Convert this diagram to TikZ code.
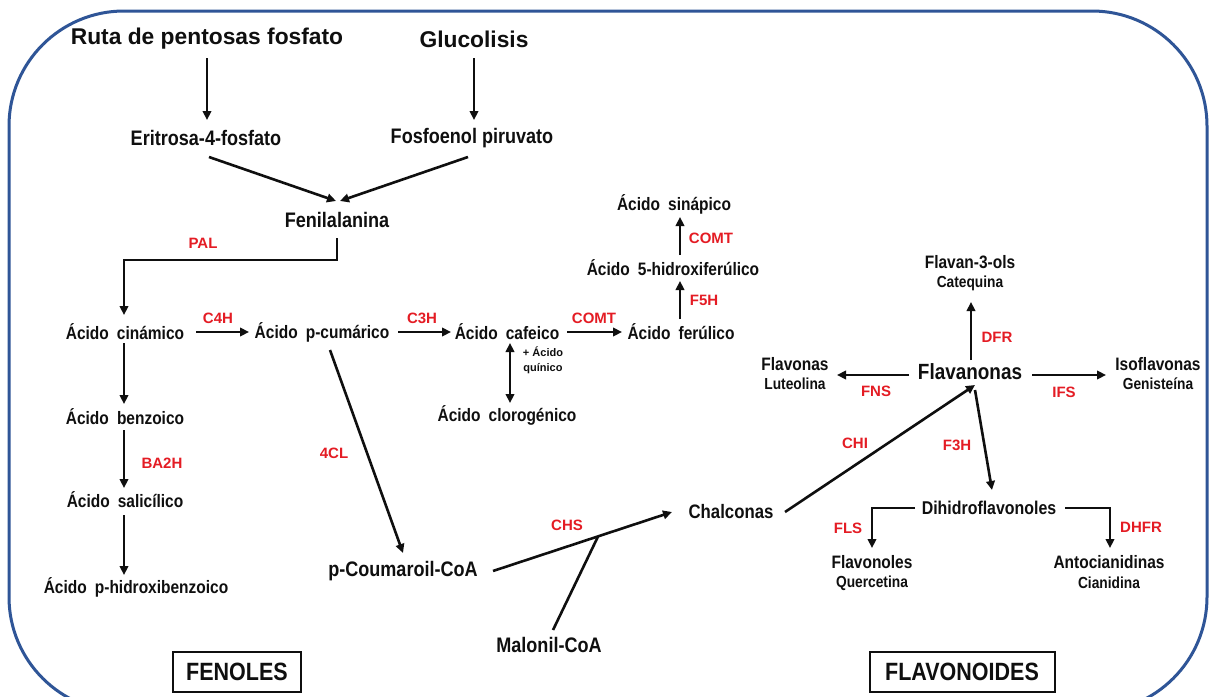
\documentclass[tikz,border=0pt]{standalone}
\usepackage{fontspec}
\setmainfont{Liberation Sans}
\newfontfamily\nf{Liberation Sans}[FakeStretch=0.86]
\usetikzlibrary{arrows.meta,calc}
\definecolor{enzred}{RGB}{228,28,36}
\definecolor{frameblue}{RGB}{47,85,151}
\definecolor{ink}{RGB}{15,15,15}
\newcommand\wsp{\hspace{0.45em}}
\begin{document}
\begin{tikzpicture}[x=1pt,y=-1pt,
  every node/.style={inner sep=0pt, text=ink},
  title/.style={font=\bfseries\fontsize{22.8}{26}\selectfont},
  mid/.style={font=\nf\bfseries\fontsize{21}{24}\selectfont},
  lbl/.style={font=\nf\bfseries\fontsize{18}{21}\selectfont},
  subl/.style={font=\nf\bfseries\fontsize{16}{19}\selectfont},
  enz/.style={text=enzred, font=\bfseries\fontsize{15}{18}\selectfont},
  tinyl/.style={font=\bfseries\fontsize{11}{13}\selectfont},
  boxl/.style={draw=ink, line width=2pt, font=\nf\bfseries\fontsize{25}{28}\selectfont, minimum height=40pt},
  arr/.style={draw=ink, line width=2.6pt, -{Triangle[length=9pt,width=8.5pt]}},
  dbl/.style={draw=ink, line width=2.6pt, {Triangle[length=9pt,width=8.5pt]}-{Triangle[length=9pt,width=8.5pt]}},
  ln/.style={draw=ink, line width=2.6pt},
]
\useasboundingbox (0,0) rectangle (1215,696);
\fill[white] (0,0) rectangle (1215,696);
\draw[frameblue, line width=3pt, rounded corners=115pt] (9,11) rectangle (1207,712);

% main nodes
\node[title] (ruta) at (207,39) {Ruta de pentosas fosfato};
\node[title] (gluc) at (474,39) {Glucolisis};
\node[mid] (eri) at (206,138) {Eritrosa-4-fosfato};
\node[mid] (fosfo) at (472,138) {Fosfoenol piruvato};
\node[mid] (fen) at (337,220) {Fenilalanina};
\node[lbl] (cin) at (125,332) {Ácido\wsp cinámico};
\node[lbl] (pcum) at (322,332) {Ácido\wsp p-cumárico};
\node[lbl] (caf) at (507,332) {Ácido\wsp cafeico};
\node[lbl] (fer) at (681,332) {Ácido\wsp ferúlico};
\node[lbl] (hid) at (673,268) {Ácido\wsp 5-hidroxiferúlico};
\node[lbl] (sin) at (674,204) {Ácido\wsp sinápico};
\node[lbl] (clo) at (507,415) {Ácido\wsp clorogénico};
\node[tinyl] (qa) at (543,352) {+ Ácido};
\node[tinyl] (qb) at (543,369) {quínico};
\node[lbl] (benz) at (125,417) {Ácido\wsp benzoico};
\node[lbl] (sal) at (125,500) {Ácido\wsp salicílico};
\node[lbl] (phb) at (136,587) {Ácido\wsp p-hidroxibenzoico};
\node[mid] (pcoa) at (403,571) {p-Coumaroil-CoA};
\node[mid] (mal) at (549,645) {Malonil-CoA};
\node[lbl, font=\nf\bfseries\fontsize{19.5}{22}\selectfont] (chal) at (731,512) {Chalconas};
\node[mid, font=\nf\bfseries\fontsize{22}{25}\selectfont] (flava) at (970,372) {Flavanonas};
\node[lbl] (flavan) at (970,262) {Flavan-3-ols};
\node[subl] (cateq) at (970,283) {Catequina};
\node[lbl] (flavonas) at (795,364) {Flavonas};
\node[subl] (lut) at (795,384) {Luteolina};
\node[lbl] (iso) at (1158,364) {Isoflavonas};
\node[subl] (gen) at (1158,384) {Genisteína};
\node[lbl, font=\nf\bfseries\fontsize{18.5}{21}\selectfont] (dihi) at (989,508) {Dihidroflavonoles};
\node[lbl] (flavonol) at (872,562) {Flavonoles};
\node[subl] (quer) at (872,583) {Quercetina};
\node[lbl] (anto) at (1109,562) {Antocianidinas};
\node[subl] (cian) at (1109,583) {Cianidina};
\node[boxl, minimum width=128pt] (fenoles) at (237,672) {FENOLES};
\node[boxl, minimum width=185pt] (flavo) at (962,672) {FLAVONOIDES};

% enzyme labels
\node[enz] (ePAL) at (203,243) {PAL};
\node[enz] (eC4H) at (218,318) {C4H};
\node[enz] (eC3H) at (422,318) {C3H};
\node[enz] (eCOMT1) at (594,318) {COMT};
\node[enz] (eF5H) at (704,300) {F5H};
\node[enz] (eCOMT2) at (711,238) {COMT};
\node[enz] (eBA2H) at (162,463) {BA2H};
\node[enz] (e4CL) at (334,453) {4CL};
\node[enz] (eCHS) at (567,525) {CHS};
\node[enz] (eCHI) at (855,443) {CHI};
\node[enz] (eF3H) at (957,445) {F3H};
\node[enz] (eDFR) at (997,337) {DFR};
\node[enz] (eFNS) at (876,391) {FNS};
\node[enz] (eIFS) at (1064,392) {IFS};
\node[enz] (eFLS) at (848,528) {FLS};
\node[enz] (eDHFR) at (1141,527) {DHFR};

% connectors
\draw[arr] ($(ruta)+(0,19)$) -- ($(eri)+(1,-18)$);
\draw[arr] ($(gluc)+(0,19)$) -- ($(fosfo)+(2,-18)$);
\draw[arr] ($(eri)+(3,19)$) -- ($(fen)+(-1,-19)$);
\draw[arr] ($(fosfo)+(-4,19)$) -- ($(fen)+(3,-19)$);
\draw[arr] ($(fen)+(0,18)$) -- ++(0,22) -| ($(cin)+(-1,-17)$);
\draw[arr] ($(cin)+(71,0)$) -- ($(pcum)+(-73,0)$);
\draw[arr] ($(pcum)+(76,0)$) -- ($(caf)+(-56,0)$);
\draw[arr] ($(caf)+(60,0)$) -- ($(fer)+(-59,0)$);
\draw[arr] ($(fer)+(-1,-13)$) -- ($(hid)+(7,13)$);
\draw[arr] ($(hid)+(7,-13)$) -- ($(sin)+(6,13)$);
\draw[dbl] ($(caf)+(3,11)$) -- ($(clo)+(3,-12)$);
\draw[arr] ($(cin)+(-1,11)$) -- ($(benz)+(-1,-13)$);
\draw[arr] ($(benz)+(-1,13)$) -- ($(sal)+(-1,-12)$);
\draw[arr] ($(sal)+(-1,15)$) -- ($(phb)+(-12,-12)$);
\draw[arr] ($(pcum)+(8,18)$) -- ($(pcoa)+(0,-18)$);
\coordinate (chsA) at ($(pcoa)+(90,0)$);
\coordinate (chsB) at ($(chal)+(-59,0)$);
\coordinate (junc) at ($(chsA)!0.587!(chsB)$);
\draw[arr] (chsA) -- (chsB);
\draw[ln] ($(mal)+(4,-15)$) -- (junc);
\draw[arr] ($(chal)+(54,0)$) -- ($(flava)+(5,13)$);
\draw[arr] ($(flava)+(5,18)$) -- ($(dihi)+(3,-18)$);
\draw[arr] ($(flava)+(1,-12)$) -- ($(cateq)+(1,19)$);
\draw[arr] ($(flava)+(-61,3)$) -- ($(flavonas)+(42,11)$);
\draw[arr] ($(flava)+(62,3)$) -- ($(iso)+(-52,11)$);
\draw[arr] ($(dihi)+(-74,0)$) -| ($(flavonol)+(0,-14)$);
\draw[arr] ($(dihi)+(76,0)$) -| ($(anto)+(1,-14)$);
\end{tikzpicture}
\end{document}
